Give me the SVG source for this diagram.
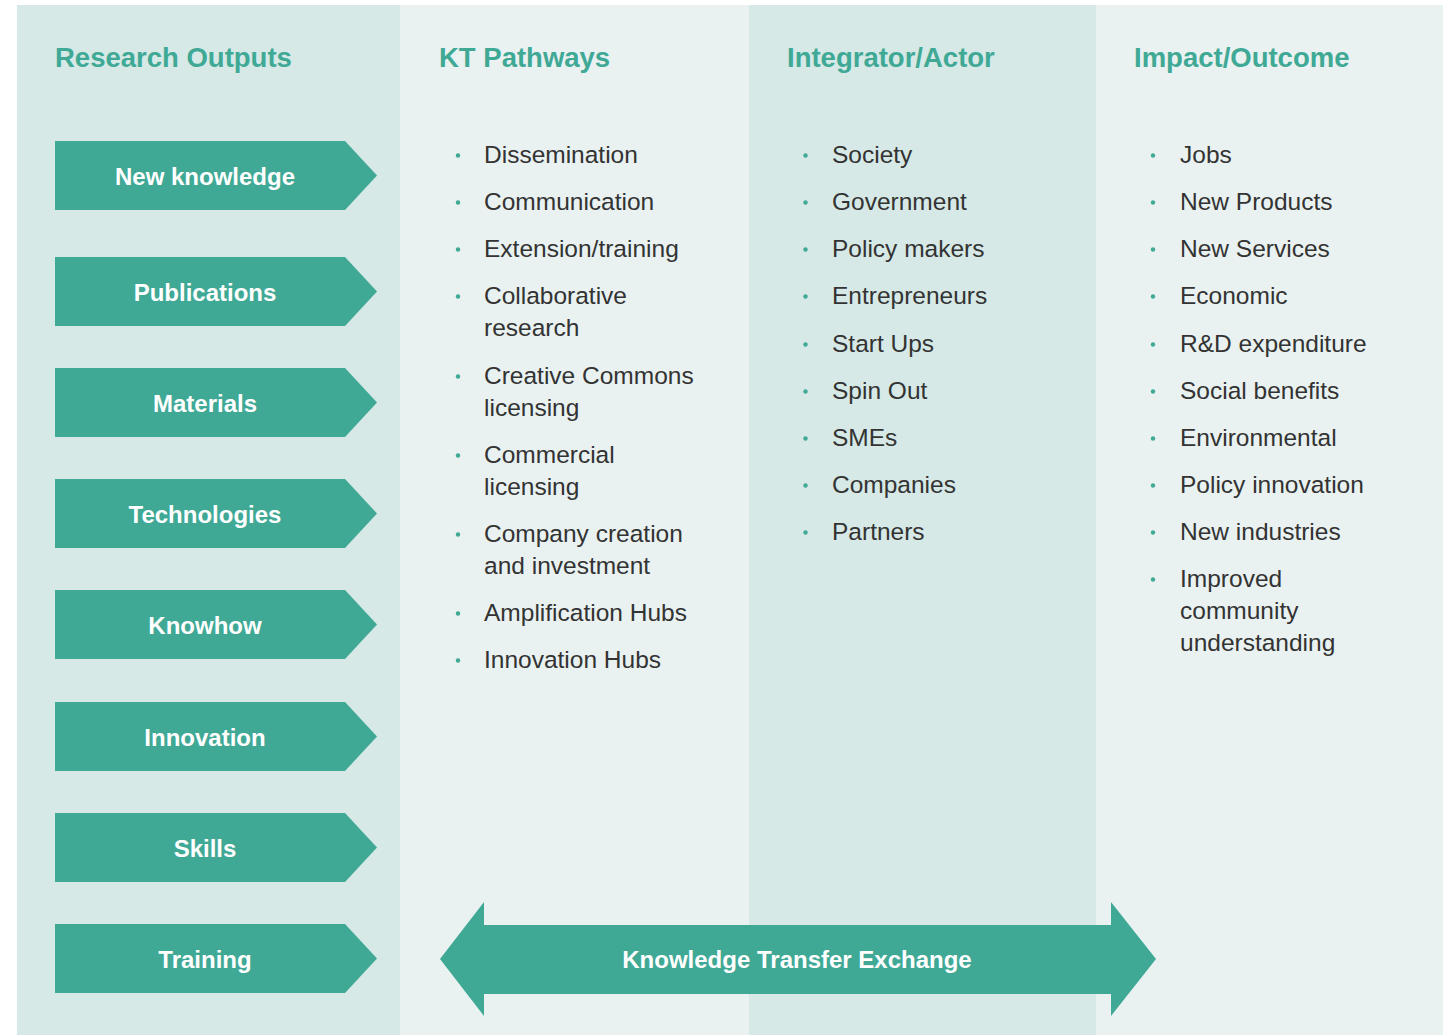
<svg xmlns="http://www.w3.org/2000/svg" width="1450" height="1035" viewBox="0 0 1450 1035">
<style>
.title{font-family:"Liberation Sans",Arial,sans-serif;font-weight:bold;font-size:27.5px;fill:#3fa996}
.lbl{font-family:"Liberation Sans",Arial,sans-serif;font-weight:bold;font-size:24px;fill:#ffffff;text-anchor:middle}
.item{font-family:"Liberation Sans",Arial,sans-serif;font-size:24.5px;fill:#333333}
.shape{fill:#3fa996}
.dot{fill:#3fa996}
</style>
<defs>
<path id="chev" d="M0,0 H290 L322,34.5 L290,69 H0 Z"/>
</defs>
<rect x="0" y="0" width="1450" height="1035" fill="#ffffff"/>
<g id="columns">
<rect x="17" y="5" width="383" height="1030" fill="#d6e9e6"/>
<rect x="400" y="5" width="349" height="1030" fill="#e9f2f1"/>
<rect x="749" y="5" width="347" height="1030" fill="#d6e9e6"/>
<rect x="1096" y="5" width="347" height="1030" fill="#e9f2f1"/>
</g>
<g id="titles">
<text class="title" x="55" y="67">Research Outputs</text>
<text class="title" x="439" y="67">KT Pathways</text>
<text class="title" x="787" y="67">Integrator/Actor</text>
<text class="title" x="1134" y="67">Impact/Outcome</text>
</g>
<g id="output-new-knowledge"><use href="#chev" class="shape" x="55" y="141"/><text class="lbl" x="205" y="185">New knowledge</text></g>
<g id="output-publications"><use href="#chev" class="shape" x="55" y="257"/><text class="lbl" x="205" y="301">Publications</text></g>
<g id="output-materials"><use href="#chev" class="shape" x="55" y="368"/><text class="lbl" x="205" y="412">Materials</text></g>
<g id="output-technologies"><use href="#chev" class="shape" x="55" y="479"/><text class="lbl" x="205" y="523">Technologies</text></g>
<g id="output-knowhow"><use href="#chev" class="shape" x="55" y="590"/><text class="lbl" x="205" y="634">Knowhow</text></g>
<g id="output-innovation"><use href="#chev" class="shape" x="55" y="702"/><text class="lbl" x="205" y="746">Innovation</text></g>
<g id="output-skills"><use href="#chev" class="shape" x="55" y="813"/><text class="lbl" x="205" y="857">Skills</text></g>
<g id="output-training"><use href="#chev" class="shape" x="55" y="924"/><text class="lbl" x="205" y="968">Training</text></g>
<g id="kt-pathways">
<circle class="dot" cx="458" cy="155.5" r="2.2"/><text class="item" x="484" y="163">Dissemination</text>
<circle class="dot" cx="458" cy="202.5" r="2.2"/><text class="item" x="484" y="210">Communication</text>
<circle class="dot" cx="458" cy="249.5" r="2.2"/><text class="item" x="484" y="257">Extension/training</text>
<circle class="dot" cx="458" cy="296.5" r="2.2"/><text class="item" x="484" y="304">Collaborative</text><text class="item" x="484" y="336">research</text>
<circle class="dot" cx="458" cy="376.5" r="2.2"/><text class="item" x="484" y="384">Creative Commons</text><text class="item" x="484" y="416">licensing</text>
<circle class="dot" cx="458" cy="455.5" r="2.2"/><text class="item" x="484" y="463">Commercial</text><text class="item" x="484" y="495">licensing</text>
<circle class="dot" cx="458" cy="534.5" r="2.2"/><text class="item" x="484" y="542">Company creation</text><text class="item" x="484" y="574">and investment</text>
<circle class="dot" cx="458" cy="613.5" r="2.2"/><text class="item" x="484" y="621">Amplification Hubs</text>
<circle class="dot" cx="458" cy="660.5" r="2.2"/><text class="item" x="484" y="668">Innovation Hubs</text>
</g>
<g id="integrator-actor">
<circle class="dot" cx="805.5" cy="155.5" r="2.2"/><text class="item" x="832" y="163">Society</text>
<circle class="dot" cx="805.5" cy="202.5" r="2.2"/><text class="item" x="832" y="210">Government</text>
<circle class="dot" cx="805.5" cy="249.5" r="2.2"/><text class="item" x="832" y="257">Policy makers</text>
<circle class="dot" cx="805.5" cy="296.5" r="2.2"/><text class="item" x="832" y="304">Entrepreneurs</text>
<circle class="dot" cx="805.5" cy="344.5" r="2.2"/><text class="item" x="832" y="352">Start Ups</text>
<circle class="dot" cx="805.5" cy="391.5" r="2.2"/><text class="item" x="832" y="399">Spin Out</text>
<circle class="dot" cx="805.5" cy="438.5" r="2.2"/><text class="item" x="832" y="446">SMEs</text>
<circle class="dot" cx="805.5" cy="485.5" r="2.2"/><text class="item" x="832" y="493">Companies</text>
<circle class="dot" cx="805.5" cy="532.5" r="2.2"/><text class="item" x="832" y="540">Partners</text>
</g>
<g id="impact-outcome">
<circle class="dot" cx="1153" cy="155.5" r="2.2"/><text class="item" x="1180" y="163">Jobs</text>
<circle class="dot" cx="1153" cy="202.5" r="2.2"/><text class="item" x="1180" y="210">New Products</text>
<circle class="dot" cx="1153" cy="249.5" r="2.2"/><text class="item" x="1180" y="257">New Services</text>
<circle class="dot" cx="1153" cy="296.5" r="2.2"/><text class="item" x="1180" y="304">Economic</text>
<circle class="dot" cx="1153" cy="344.5" r="2.2"/><text class="item" x="1180" y="352">R&amp;D expenditure</text>
<circle class="dot" cx="1153" cy="391.5" r="2.2"/><text class="item" x="1180" y="399">Social benefits</text>
<circle class="dot" cx="1153" cy="438.5" r="2.2"/><text class="item" x="1180" y="446">Environmental</text>
<circle class="dot" cx="1153" cy="485.5" r="2.2"/><text class="item" x="1180" y="493">Policy innovation</text>
<circle class="dot" cx="1153" cy="532.5" r="2.2"/><text class="item" x="1180" y="540">New industries</text>
<circle class="dot" cx="1153" cy="579.5" r="2.2"/><text class="item" x="1180" y="587">Improved</text><text class="item" x="1180" y="619">community</text><text class="item" x="1180" y="651">understanding</text>
</g>
<g id="connectors">
<g id="kt-exchange">
<path class="shape" d="M440,959 L484,902 V925 H1111 V902 L1156,959 L1111,1016 V994 H484 V1016 Z"/>
<text class="lbl" x="797" y="968">Knowledge Transfer Exchange</text>
</g>
</g>
</svg>
